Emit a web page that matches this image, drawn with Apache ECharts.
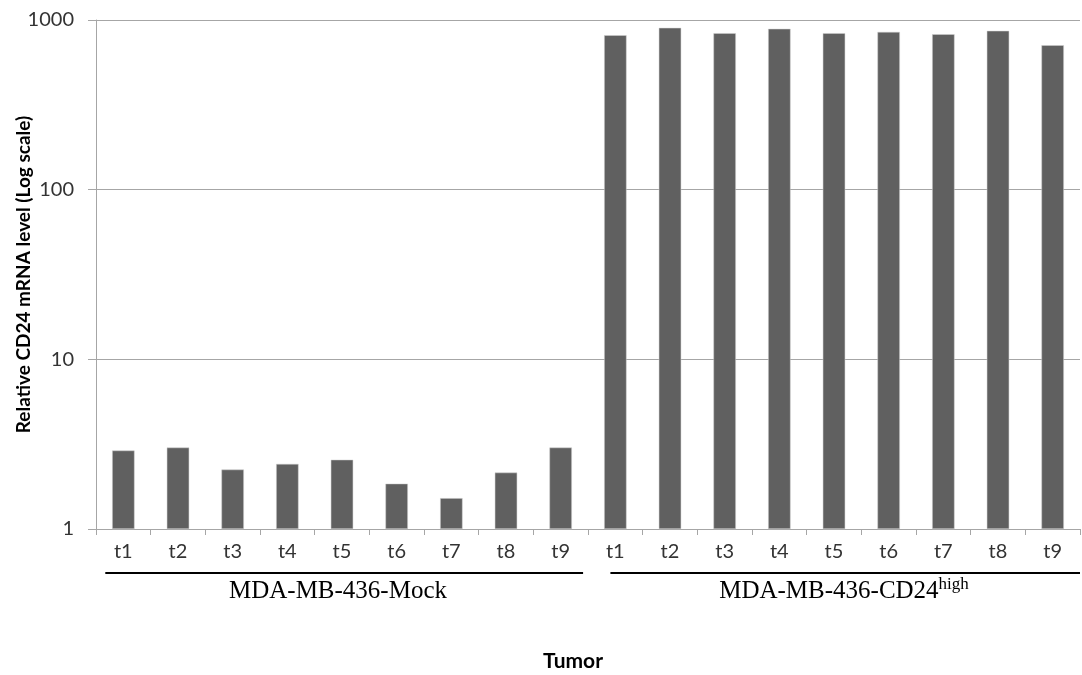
<!DOCTYPE html>
<html>
<head>
<meta charset="utf-8">
<script src="https://cdn.jsdelivr.net/npm/echarts@6/dist/echarts.min.js"></script>
<style>
  html, body { margin: 0; padding: 0; background: #fff; }
  #container { width: 1082px; height: 675px; }
</style>
</head>
<body>
<div id="container"></div>
<script>
var tumors = ['t1', 't2', 't3', 't4', 't5', 't6', 't7', 't8', 't9'];
var mockValues = [2.90, 3.02, 2.24, 2.42, 2.56, 1.85, 1.52, 2.15, 3.02];
var highValues = [813, 899, 836, 887, 836, 851, 824, 863, 710];
var groupNames = ['MDA-MB-436-Mock', 'MDA-MB-436-CD24'];

var categories = tumors.concat(tumors);
var values = mockValues.concat(highValues);

var dom = document.getElementById('container');
var myChart = echarts.init(dom);

var option = {
    backgroundColor: '#fff',
    animation: false,
    grid: { left: 96, right: 2, top: 20, bottom: 146, outerBoundsMode: 'none', containLabel: false },
    xAxis: {
        type: 'category',
        data: categories,
        name: 'Tumor',
        nameLocation: 'middle',
        nameGap: 122,
        nameTextStyle: { fontFamily: 'Lato', fontWeight: 'bold', fontSize: 21, color: '#000', padding: [0, 30, 0, 0] },
        axisLine: { lineStyle: { color: '#a6a6a6', width: 1 } },
        axisTick: { show: true, length: 6, lineStyle: { color: '#a6a6a6' } },
        axisLabel: { fontFamily: 'Lato', fontSize: 20, color: '#333', margin: 13, interval: 0 }
    },
    yAxis: {
        type: 'log',
        logBase: 10,
        min: 1,
        max: 1000,
        name: 'Relative CD24 mRNA level (Log scale)',
        nameLocation: 'middle',
        nameGap: 63,
        nameMoveOverlap: false,
        nameTextStyle: { fontFamily: 'Lato', fontWeight: 'bold', fontSize: 19, color: '#000' },
        axisLine: { show: true, lineStyle: { color: '#a6a6a6', width: 1 } },
        axisTick: { show: true, length: 8, lineStyle: { color: '#a6a6a6' } },
        axisLabel: {
            fontFamily: 'Lato', fontSize: 20, color: '#333', margin: 22,
            formatter: function (v) { return String(Math.round(v)); }
        },
        splitLine: { lineStyle: { color: '#a6a6a6', width: 1 } }
    },
    series: [{
        type: 'bar',
        data: values,
        barWidth: '41%',
        itemStyle: { color: '#606060', borderColor: '#d0d0d0', borderWidth: 0.5 }
    }]
};

myChart.setOption(option);

// group labels and underlines below the tick labels
var half = tumors.length;
var lineY = 573;
var p0 = myChart.convertToPixel({ xAxisIndex: 0 }, 0);
var p8 = myChart.convertToPixel({ xAxisIndex: 0 }, half - 1);
var p9 = myChart.convertToPixel({ xAxisIndex: 0 }, half);
var p17 = myChart.convertToPixel({ xAxisIndex: 0 }, 2 * half - 1);
var step = p9 - p8;

var graphics = [
    { type: 'line', shape: { x1: p0 - step * 0.33, y1: lineY, x2: p8 + step * 0.41, y2: lineY },
      style: { stroke: '#000', lineWidth: 2 } },
    { type: 'line', shape: { x1: p9 - step * 0.09, y1: lineY, x2: p17 + step * 0.5, y2: lineY },
      style: { stroke: '#000', lineWidth: 2 } },
    { type: 'text', x: (p0 + p8) / 2 - 4, y: 591,
      style: { text: groupNames[0], font: '25px "Liberation Serif"', fill: '#000', align: 'center', verticalAlign: 'middle' } },
    { type: 'text', x: (p9 + p17) / 2 + 10, y: 591,
      style: {
          text: '{n|' + groupNames[1] + '}{s|high}',
          align: 'center', verticalAlign: 'middle',
          rich: {
              n: { fontFamily: 'Liberation Serif', fontSize: 25, color: '#000' },
              s: { fontFamily: 'Liberation Serif', fontSize: 17, color: '#000', verticalAlign: 'top', padding: [0, 0, 12, 0] }
          }
      } }
];
myChart.setOption({ graphic: graphics });
</script>
</body>
</html>
